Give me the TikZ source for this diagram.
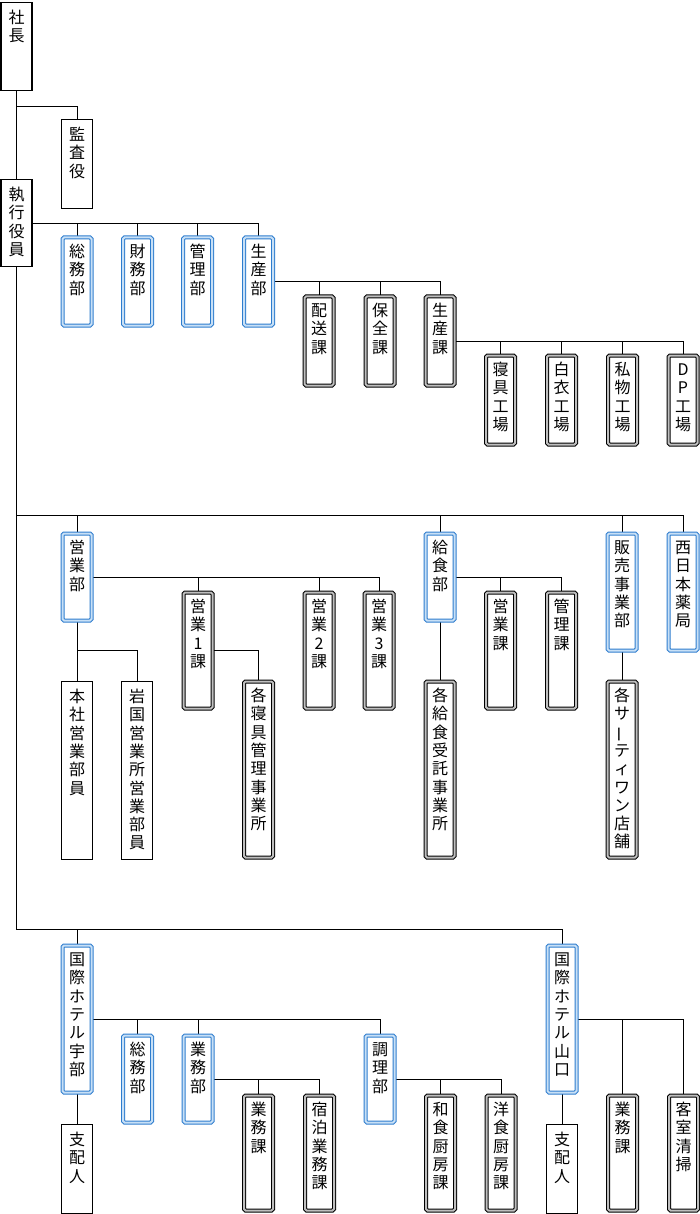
\documentclass[tikz,border=0pt]{standalone}
\usepackage{fontspec}
\setmainfont{Noto Sans CJK JP}
\usetikzlibrary{backgrounds}
\definecolor{bline}{RGB}{46,125,206}
\definecolor{bgap}{RGB}{200,224,246}
\newcommand\tate[2]{\parbox[t][#1pt][t]{29pt}{\centering\rule{0pt}{20pt}#2}}
\newcommand\chouon{\rotatebox[origin=c]{90}{ー}}
\begin{document}
\begin{tikzpicture}[x=1pt,y=-1pt,
  every node/.style={anchor=north,inner sep=0pt,fill=white,font=\fontsize{16}{18.3}\selectfont},
  plainbox/.style={draw,line width=1.1pt,inner sep=1pt},
  blkbox/.style={draw=black,double=black!25,line width=1pt,double distance=2pt,rounded corners=1.5pt},
  blubox/.style={draw=bline,double=bgap,line width=1pt,double distance=2pt,rounded corners=1.5pt},
  link/.style={line width=1.2pt}]
\useasboundingbox (0,0) rectangle (700,1214);

% top
\node[plainbox] (shacho) at (16.5,2) {\tate{86}{社\\長}};
\node[plainbox] (kansa) at (77,119) {\tate{87}{監\\査\\役}};
\node[plainbox] (shikko) at (16.5,179) {\tate{85}{執\\行\\役\\員}};

% row 1
\node[blubox] (somu) at (77,237) {\tate{88}{総\\務\\部}};
\node[blubox] (zaimu) at (137.5,237) {\tate{88}{財\\務\\部}};
\node[blubox] (kanri) at (197.5,237) {\tate{88}{管\\理\\部}};
\node[blubox] (seisanbu) at (258.5,237) {\tate{88}{生\\産\\部}};
\node[blkbox] (haiso) at (319,296) {\tate{89}{配\\送\\課}};
\node[blkbox] (hozen) at (380,296) {\tate{89}{保\\全\\課}};
\node[blkbox] (seisanka) at (440,296) {\tate{89}{生\\産\\課}};
\node[blkbox] (shingu) at (500.5,355) {\tate{89}{寝\\具\\工\\場}};
\node[blkbox] (hakui) at (561.5,355) {\tate{89}{白\\衣\\工\\場}};
\node[blkbox] (shibutsu) at (622.5,355) {\tate{89}{私\\物\\工\\場}};
\node[blkbox] (dp) at (683,355) {\tate{89}{D\\P\\工\\場}};

% sales
\node[blubox] (eigyobu) at (77,533) {\tate{87}{営\\業\\部}};
\node[blubox] (kyushoku) at (440,533) {\tate{87}{給\\食\\部}};
\node[blubox] (hanbai) at (622,533) {\tate{117}{販\\売\\事\\業\\部}};
\node[blubox] (nishi) at (683,533) {\tate{117}{西\\日\\本\\薬\\局}};
\node[blkbox] (eigyo1) at (198,592) {\tate{116}{営\\業\\1\\課}};
\node[blkbox] (eigyo2) at (319,592) {\tate{116}{営\\業\\2\\課}};
\node[blkbox] (eigyo3) at (379,592) {\tate{116}{営\\業\\3\\課}};
\node[blkbox] (eigyoka) at (500.5,592) {\tate{116}{営\\業\\課}};
\node[blkbox] (kanrika) at (561.5,592) {\tate{116}{管\\理\\課}};
\node[plainbox] (honsha) at (77,681) {\tate{176}{本\\社\\営\\業\\部\\員}};
\node[plainbox] (iwakuni) at (137,681) {\tate{176}{岩\\国\\営\\業\\所\\営\\業\\部\\員}};
\node[blkbox] (kakushingu) at (258.5,681) {\tate{176}{各\\寝\\具\\管\\理\\事\\業\\所}};
\node[blkbox] (kakukyu) at (440,681) {\tate{176}{各\\給\\食\\受\\託\\事\\業\\所}};
\node[blkbox] (thirtyone) at (622,681) {\tate{176}{各\\サ\\\chouon\\テ\\ィ\\ワ\\ン\\店\\舗}};

% hotels
\node[blubox] (hotelube) at (77,945) {\tate{147}{国\\際\\ホ\\テ\\ル\\宇\\部}};
\node[blubox] (hotelyama) at (562,945) {\tate{147}{国\\際\\ホ\\テ\\ル\\山\\口}};
\node[blubox] (hsomu) at (137.5,1035) {\tate{87}{総\\務\\部}};
\node[blubox] (hgyomu) at (198,1035) {\tate{87}{業\\務\\部}};
\node[blubox] (chori) at (380,1035) {\tate{87}{調\\理\\部}};
\node[plainbox] (ushihai) at (77,1124) {\tate{87}{支\\配\\人}};
\node[plainbox] (yshihai) at (562,1124) {\tate{87}{支\\配\\人}};
\node[blkbox] (gyomuka) at (258.5,1095) {\tate{115}{業\\務\\課}};
\node[blkbox] (shukuhaku) at (319.5,1095) {\tate{115}{宿\\泊\\業\\務\\課}};
\node[blkbox] (washoku) at (440.5,1095) {\tate{115}{和\\食\\厨\\房\\課}};
\node[blkbox] (yoshoku) at (501,1095) {\tate{115}{洋\\食\\厨\\房\\課}};
\node[blkbox] (ygyomuka) at (622.5,1095) {\tate{115}{業\\務\\課}};
\node[blkbox] (kyakushitsu) at (683.5,1095) {\tate{115}{客\\室\\清\\掃}};

\coordinate (busa) at (16.5,515);
\coordinate (busb) at (16.5,929);

\begin{scope}[on background layer,link]
\draw (shacho) -- (shikko);
\draw (shacho.south) ++(0,15) -| (kansa.north);
\draw (shikko.east) -| (seisanbu.north);
\foreach \n in {somu,zaimu,kanri}
    \draw (\n.north) -- (\n.north |- shikko.east);
\draw (seisanbu.east) -| (seisanka.north);
\foreach \n in {haiso,hozen}
    \draw (\n.north) -- (\n.north |- seisanbu.east);
\draw (seisanka.east) -| (dp.north);
\foreach \n in {shingu,hakui,shibutsu}
    \draw (\n.north) -- (\n.north |- seisanka.east);
\draw (shikko.south) -- (busb) -| (hotelyama.north);
\draw (busa) -| (nishi.north);
\foreach \n in {eigyobu,kyushoku,hanbai}
    \draw (\n.north) -- (\n.north |- busa);
\draw (hotelube.north) -- (hotelube.north |- busb);
\draw (eigyobu.east) -| (eigyo3.north);
\foreach \n in {eigyo1,eigyo2}
    \draw (\n.north) -- (\n.north |- eigyobu.east);
\draw (eigyobu) -- (honsha);
\draw (eigyobu.south) ++(0,29) -| (iwakuni.north);
\draw (eigyo1.east) -| (kakushingu.north);
\draw (kyushoku.east) -| (kanrika.north);
\draw (eigyoka.north) -- (eigyoka.north |- kyushoku.east);
\draw (kyushoku) -- (kakukyu);
\draw (hanbai) -- (thirtyone);
\draw (hotelube.east) -| (chori.north);
\foreach \n in {hsomu,hgyomu}
    \draw (\n.north) -- (\n.north |- hotelube.east);
\draw (hgyomu.east) -| (shukuhaku.north);
\draw (gyomuka.north) -- (gyomuka.north |- hgyomu.east);
\draw (chori.east) -| (yoshoku.north);
\draw (washoku.north) -- (washoku.north |- chori.east);
\draw (hotelube) -- (ushihai);
\draw (hotelyama.east) -| (kyakushitsu.north);
\draw (ygyomuka.north) -- (ygyomuka.north |- hotelyama.east);
\draw (hotelyama) -- (yshihai);
\end{scope}
\end{tikzpicture}
\end{document}
